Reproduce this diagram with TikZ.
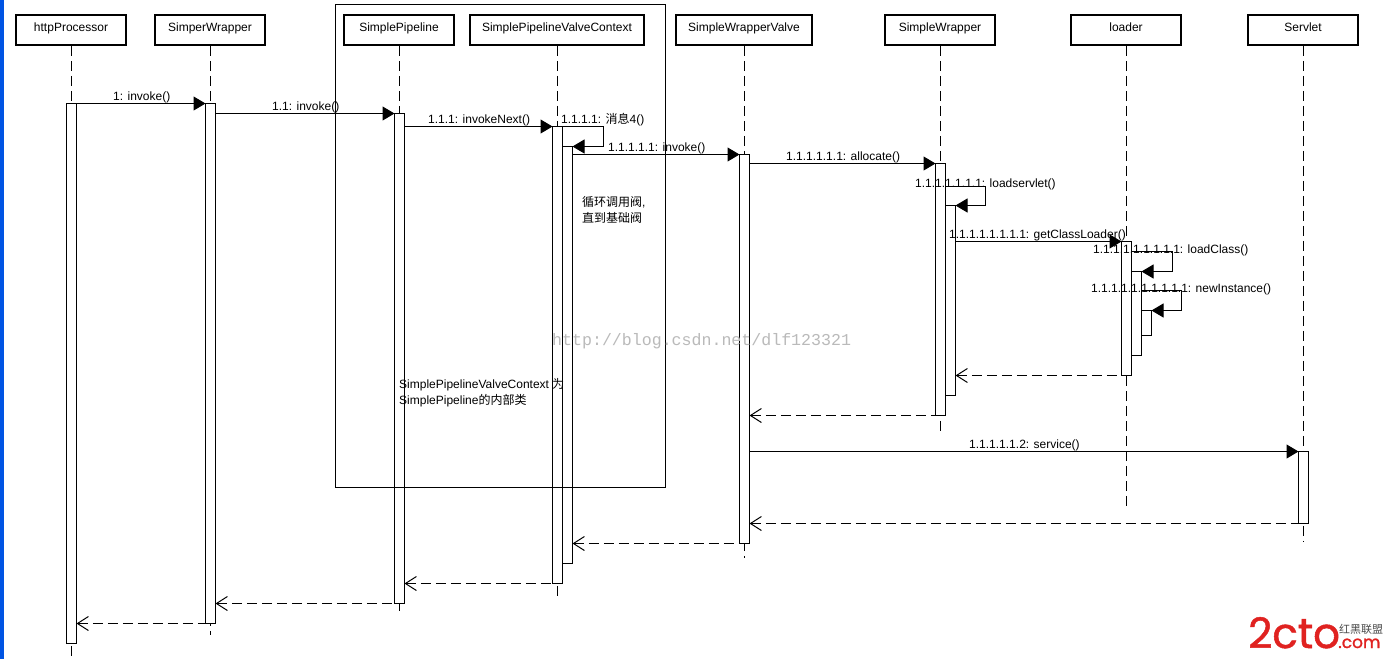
\documentclass[tikz,border=0pt]{standalone}
\usepackage{fontspec}
\setmainfont{Liberation Sans}
\newfontfamily\cjkfont{Noto Sans CJK SC}
\newfontfamily\markfont{Liberation Mono}
\newfontfamily\logofont[FakeBold=1.2]{Poppins}
\usetikzlibrary{arrows.meta}
\definecolor{winblue}{RGB}{0,84,227}
\definecolor{logored}{RGB}{224,34,32}
\tikzset{
  actor/.style={draw,line width=1.6pt,fill=white,minimum width=110,inner xsep=0,inner ysep=0,
    text height=16,text depth=14,font=\fontsize{12}{14}\selectfont},
  lifeline/.style={line width=1pt,dash pattern=on 10pt off 5pt},
  bar/.style={draw,line width=1pt,fill=white,minimum width=10,inner sep=0,outer sep=0,anchor=north},
  call/.style={line width=1pt,-{Triangle[length=12pt,width=14pt]}},
  reply/.style={line width=1pt,dash pattern=on 10pt off 5pt,{Straight Barb[length=11pt,width=14pt]}-},
  label/.style={anchor=base west,inner sep=0,font=\fontsize{12}{14}\selectfont},
  note/.style={anchor=base west,inner sep=0,align=left,font=\fontsize{12}{16}\selectfont},
}
\begin{document}
\begin{tikzpicture}[x=1pt,y=-1pt]
\useasboundingbox (0,0) rectangle (1386,659);
\fill[white] (0,0) rectangle (1386,659);
\fill[winblue] (0,0) rectangle (3.5,659);

% participants
\node[actor] (http) at (71,30) {httpProcessor};
\node[actor] (simper) at (210,30) {SimperWrapper};
\node[actor] (pipe) at (399,30) {SimplePipeline};
\node[actor,minimum width=174] (ctx) at (557,30) {SimplePipelineValveContext};
\node[actor,minimum width=136] (valve) at (744,30) {SimpleWrapperValve};
\node[actor] (wrap) at (940,30) {SimpleWrapper};
\node[actor] (load) at (1126,30) {loader};
\node[actor] (serv) at (1303,30) {Servlet};

% lifeline ends
\coordinate (httpEnd) at (71,658);
\coordinate (simperEnd) at (210,635);
\coordinate (pipeEnd) at (399,615);
\coordinate (ctxEnd) at (557,598);
\coordinate (valveEnd) at (744,558);
\coordinate (wrapEnd) at (940,431);
\coordinate (loadEnd) at (1126,508);
\coordinate (servEnd) at (1303,541);
\draw[lifeline] (http.south) -- (httpEnd);
\draw[lifeline] (simper.south) -- (simperEnd);
\draw[lifeline] (pipe.south) -- (pipeEnd);
\draw[lifeline] (ctx.south) -- (ctxEnd);
\draw[lifeline] (valve.south) -- (valveEnd);
\draw[lifeline] (wrap.south) -- (wrapEnd);
\draw[lifeline] (load.south) -- (loadEnd);
\draw[lifeline] (serv.south) -- (servEnd);

% activation bars
\node[bar,minimum height=540] (a1) at (71.5,103.5) {};
\node[bar,minimum height=520] (a2) at (210.5,103.5) {};
\node[bar,minimum height=490] (a3) at (399.5,113.5) {};
\node[bar,minimum height=457] (a4) at (557.5,126.5) {};
\node[bar,minimum height=417] (a4b) at (567.5,146.5) {};
\node[bar,minimum height=389] (a5) at (744.5,154.5) {};
\node[bar,minimum height=252] (a6) at (940.5,163.5) {};
\node[bar,minimum height=190] (a6b) at (950.5,205.5) {};
\node[bar,minimum height=134] (a7) at (1126.5,241.5) {};
\node[bar,minimum height=84] (a7b) at (1136.5,271.5) {};
\node[bar,minimum height=25] (a7c) at (1146.5,310.5) {};
\node[bar,minimum height=72] (a8) at (1303.5,451.5) {};

% grouping frame round the pipeline objects, drawn over the bars
\draw[line width=1pt] (335.5,4.5) rectangle (665.5,487.5);

% turning points of the self calls
\coordinate (selfA) at (603.5,126.5);
\coordinate (selfB) at (985.5,186.5);
\coordinate (selfC) at (1172.5,251.5);
\coordinate (selfD) at (1181.5,290.5);

% calls
\draw[call] (a1.north east) -- (a2.north west);
\draw[call] (a2.east |- a3.north) -- (a3.north west);
\draw[call] (a3.east |- a4.north) -- (a4.north west);
\draw[call] (a4.north east) -- (selfA) |- (a4b.north east);
\draw[call] (a4b.east |- a5.north) -- (a5.north west);
\draw[call] (a5.east |- a6.north) -- (a6.north west);
\draw[call] (a6.east |- selfB) -- (selfB) |- (a6b.north east);
\draw[call] (a6b.east |- a7.north) -- (a7.north west);
\draw[call] (a7.east |- selfC) -- (selfC) |- (a7b.north east);
\draw[call] (a7b.east |- selfD) -- (selfD) |- (a7c.north east);
\draw[call] (a5.east |- a8.north) -- (a8.north west);

% replies
\draw[reply] (a6b.east |- a7.south) -- (a7.south west);
\draw[reply] (a5.east |- a6.south) -- (a6.south west);
\draw[reply] (a5.east |- a8.south) -- (a8.south west);
\draw[reply] (a4b.east |- a5.south) -- (a5.south west);
\draw[reply] (a3.east |- a4.south) -- (a4.south west);
\draw[reply] (a2.east |- a3.south) -- (a3.south west);
\draw[reply] (a1.east |- a2.south) -- (a2.south west);

% message labels
\node[label] (m1) at (113,100) {1: invoke()};
\node[label] (m2) at (272,110) {1.1: invoke()};
\node[label] (m3) at (428,123) {1.1.1: invokeNext()};
\node[label] (m4) at (561,123) {1.1.1.1: {\cjkfont 消息}4()};
\node[label] (m5) at (608,151) {1.1.1.1.1: invoke()};
\node[label] (m6) at (786,160) {1.1.1.1.1.1: allocate()};
\node[label] (m7) at (915,187) {1.1.1.1.1.1.1: loadservlet()};
\node[label] (m8) at (949,238) {1.1.1.1.1.1.1.1: getClassLoader()};
\node[label] (m9) at (1093,253) {1.1.1.1.1.1.1.1.1: loadClass()};
\node[label] (m10) at (1091,292) {1.1.1.1.1.1.1.1.1.1: newInstance()};
\node[label] (m11) at (969,448) {1.1.1.1.1.2: service()};

% comments
\node[note] (n1) at (582,222) {{\cjkfont 循环调用阀},\\{\cjkfont 直到基础阀}};
\node[note] (n2) at (399,404) {SimplePipelineValveContext {\cjkfont 为}\\SimplePipeline{\cjkfont 的内部类}};

% address line across the middle
\node[anchor=base west,inner sep=0,text=black!27,font=\markfont\fontsize{16.6}{18}\selectfont] (addr) at (552,345) {http://blog.csdn.net/dlf123321};

% site logo
\node[anchor=base west,inner sep=0,text=logored,font=\logofont\fontsize{42}{46}\selectfont] (logo) at (1248,648) {2cto};
\node[anchor=base west,inner sep=0,text=black!70,font=\cjkfont\fontsize{11}{12}\selectfont] (logoCn) at (1339,633) {红黑联盟};
\node[anchor=base west,inner sep=0,text=logored,font=\logofont\fontsize{17}{18}\selectfont] (logoDot) at (1338,648) {.com};
\end{tikzpicture}
\end{document}
